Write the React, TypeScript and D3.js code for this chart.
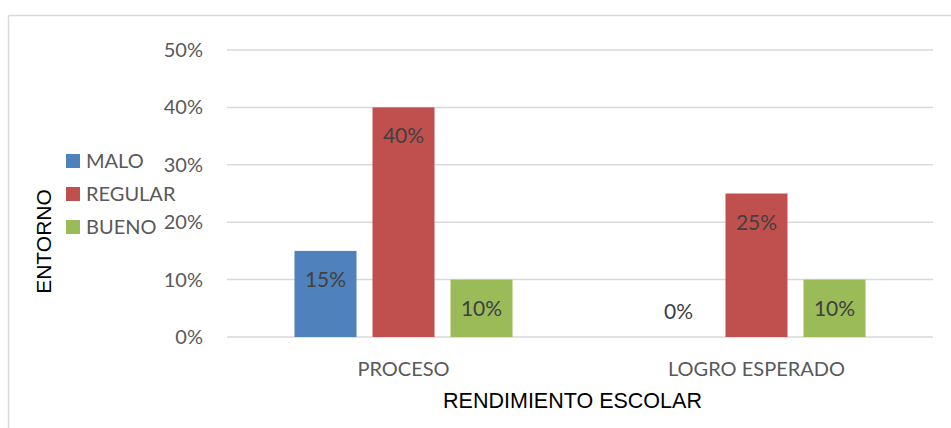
import React from "react";
import * as d3 from "d3";

const categories = ["PROCESO", "LOGRO ESPERADO"];
const seriesNames = ["MALO", "REGULAR", "BUENO"];
const seriesColors = ["#4F81BD", "#C0504D", "#9BBB59"];
const malo = [0.15, 0];
const regular = [0.4, 0.25];
const bueno = [0.1, 0.1];
const yTicks = [0, 0.1, 0.2, 0.3, 0.4, 0.5];

const W = 951;
const H = 428;
const plotLeft = 227;
const plotRight = 933;
const plotTop = 50;
const plotBottom = 337;
const FONT = "Lato, 'Open Sans', sans-serif";

export default function App() {
  const values = [malo, regular, bueno];
  const x0 = d3.scaleBand<string>().domain(categories).range([plotLeft, plotRight]).padding(0);
  const x1 = d3
    .scaleBand<string>()
    .domain(seriesNames)
    .range([0, x0.bandwidth()])
    .paddingInner(0.205)
    .paddingOuter(0.865);
  const y = d3.scaleLinear().domain([0, 0.5]).range([plotBottom, plotTop]);
  const fmt = d3.format(".0%");

  return (
    <svg
      width={W}
      height={H}
      style={{ position: "absolute", left: 0, top: 0, background: "#fff" }}
    >
      <rect x={0} y={0} width={W} height={H} fill="#fff" />
      {/* chart area border */}
      <line x1={8.5} y1={15.5} x2={W} y2={15.5} stroke="#d9d9d9" strokeWidth={1.5} />
      <line x1={8.5} y1={15.5} x2={8.5} y2={H} stroke="#d9d9d9" strokeWidth={1.5} />

      {/* gridlines */}
      {yTicks.map((t) => (
        <line
          key={t}
          x1={plotLeft}
          x2={plotRight}
          y1={y(t)}
          y2={y(t)}
          stroke="#d9d9d9"
          strokeWidth={1.5}
        />
      ))}
      {/* y tick labels */}
      {yTicks.map((t) => (
        <text
          key={"l" + t}
          x={203}
          y={y(t) + 7}
          textAnchor="end"
          fontFamily={FONT}
          fontSize={20}
          fill="#595959"
        >
          {fmt(t)}
        </text>
      ))}

      {/* bars */}
      {categories.map((c, ci) => (
        <g key={c}>
          {seriesNames.map((s, si) => {
            const v = values[si][ci];
            const bx = (x0(c) ?? 0) + (x1(s) ?? 0);
            const bw = x1.bandwidth();
            return (
              <g key={s}>
                {v > 0 && (
                  <rect
                    x={bx}
                    y={y(v)}
                    width={bw}
                    height={y(0) - y(v)}
                    fill={seriesColors[si]}
                  />
                )}
                <text
                  x={bx + bw / 2}
                  y={v > 0 ? y(v) + 36 : y(0) - 18}
                  textAnchor="middle"
                  fontFamily={FONT}
                  fontSize={21}
                  fill="#404040"
                >
                  {fmt(v)}
                </text>
              </g>
            );
          })}
        </g>
      ))}

      {/* category labels */}
      {categories.map((c) => (
        <text
          key={"c" + c}
          x={(x0(c) ?? 0) + x0.bandwidth() / 2}
          y={376}
          textAnchor="middle"
          fontFamily={FONT}
          fontSize={20}
          fill="#595959"
        >
          {c}
        </text>
      ))}

      {/* legend */}
      {seriesNames.map((s, i) => (
        <g key={"lg" + s} transform={`translate(66, ${154 + i * 33})`}>
          <rect x={0} y={0} width={14} height={14} fill={seriesColors[i]} />
          <text x={20} y={14} fontFamily={FONT} fontSize={20} fill="#595959">
            {s}
          </text>
        </g>
      ))}

      {/* axis titles */}
      <text
        x={572.5}
        y={408}
        textAnchor="middle"
        fontFamily="'Liberation Sans', Arial, sans-serif"
        fontSize={21.5}
        fill="#000"
      >
        RENDIMIENTO ESCOLAR
      </text>
      <text
        transform={`translate(51, 241.5) rotate(-90)`}
        textAnchor="middle"
        fontFamily="'Liberation Sans', Arial, sans-serif"
        fontSize={21}
        fill="#000"
      >
        ENTORNO
      </text>
    </svg>
  );
}
